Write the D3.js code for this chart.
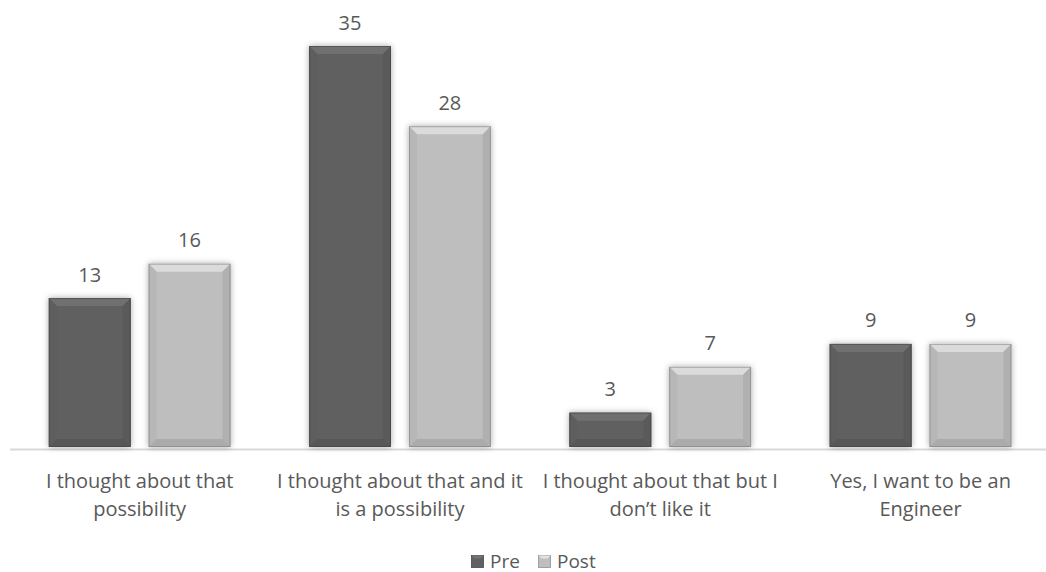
<!DOCTYPE html>
<html>
<head>
<meta charset="utf-8">
<script src="https://cdn.jsdelivr.net/npm/d3@7"></script>
<style>
  html, body { margin: 0; padding: 0; background: #ffffff; }
  svg { display: block; }
  text { font-family: "Open Sans", Lato, sans-serif; fill: #595959; }
</style>
</head>
<body>
<svg id="chart" width="1046" height="572"></svg>
<script>
// Survey answers, before and after the programme
const categories = [
  "I thought about that possibility",
  "I thought about that and it is a possibility",
  "I thought about that but I don\u2019t like it",
  "Yes, I want to be an Engineer"
];
const categoryLines = [
  ["I thought about that", "possibility"],
  ["I thought about that and it", "is a possibility"],
  ["I thought about that but I", "don\u2019t like it"],
  ["Yes, I want to be an", "Engineer"]
];
const seriesNames = ["Pre", "Post"];
const preValues = [13, 35, 3, 9];
const postValues = [16, 28, 7, 9];

const seriesColors = { Pre: "#616161", Post: "#bebebe" };

const W = 1046, H = 572;
const margin = { left: 9.5, right: -4.7, top: 46, bottom: 125 };
const svg = d3.select("#chart");

const x0 = d3.scaleBand().domain(categories)
  .range([margin.left, W - margin.right]).paddingInner(0.302).paddingOuter(0.151);
const x1 = d3.scaleBand().domain(seriesNames)
  .range([0, x0.bandwidth()]).paddingInner(0.18);
const y = d3.scaleLinear().domain([0, 35]).range([H - margin.bottom, margin.top]);

const defs = svg.append("defs");
const shadow = defs.append("filter").attr("id", "barShadow")
  .attr("x", "-20%").attr("y", "-20%").attr("width", "140%").attr("height", "140%");
shadow.append("feDropShadow").attr("dx", 0).attr("dy", 0)
  .attr("stdDeviation", 3).attr("flood-color", "#000").attr("flood-opacity", 0.35);

// axis baseline
svg.append("line")
  .attr("x1", 10).attr("x2", W)
  .attr("y1", y(0) + 2.5).attr("y2", y(0) + 2.5)
  .attr("stroke", "#d9d9d9").attr("stroke-width", 2);

const rows = categories.map((c, i) => ({ cat: c, values: [
  { s: "Pre", v: preValues[i] }, { s: "Post", v: postValues[i] }
]}));

const groups = svg.append("g").selectAll("g").data(rows).join("g")
  .attr("transform", d => `translate(${x0(d.cat)},0)`);

const bars = groups.selectAll("g.bar").data(d => d.values).join("g").attr("class", "bar");

bars.each(function(d) {
  const g = d3.select(this);
  const bx = x1(d.s), bw = x1.bandwidth();
  const top = y(d.v), bot = y(0), bh = bot - top;
  const base = d3.color(seriesColors[d.s]);
  const b = Math.min(8, bh / 2);
  g.append("rect").attr("x", bx).attr("y", top).attr("width", bw).attr("height", bh)
    .attr("fill", base).attr("filter", "url(#barShadow)");
  // bevel facets
  const face = (pts, col) => g.append("polygon")
    .attr("points", pts.map(p => p.join(",")).join(" ")).attr("fill", col);
  face([[bx, top], [bx + bw, top], [bx + bw - b, top + b], [bx + b, top + b]], base.brighter(0.4));
  face([[bx, top], [bx + b, top + b], [bx + b, bot - b], [bx, bot]], base.darker(0.1));
  face([[bx + bw, top], [bx + bw - b, top + b], [bx + bw - b, bot - b], [bx + bw, bot]], base.darker(0.22));
  face([[bx, bot], [bx + b, bot - b], [bx + bw - b, bot - b], [bx + bw, bot]], base.darker(0.3));
  g.append("rect").attr("x", bx + 0.5).attr("y", top + 0.5).attr("width", bw - 1).attr("height", bh - 1)
    .attr("fill", "none").attr("stroke", base.darker(1.2)).attr("stroke-opacity", 0.55);
  g.append("text").attr("x", bx + bw / 2).attr("y", top - 16.5)
    .attr("text-anchor", "middle").attr("font-size", 20).text(d.v);
});

// category labels
const labels = svg.append("g").selectAll("text").data(categories).join("text")
  .attr("text-anchor", "middle").attr("font-size", 20)
  .attr("transform", d => `translate(${x0(d) + x0.bandwidth() / 2},${y(0) + 41})`);
labels.each(function(d, i) {
  const t = d3.select(this);
  categoryLines[i].forEach((line, k) => {
    t.append("tspan").attr("x", 0).attr("dy", k === 0 ? 0 : 27.5).text(line);
  });
});

// legend
const legend = svg.append("g").attr("transform", "translate(471,561)");
const legendItems = [{ s: "Pre", x: 0 }, { s: "Post", x: 67 }];
legendItems.forEach(it => {
  const base = d3.color(seriesColors[it.s]);
  const lg = legend.append("g").attr("transform", `translate(${it.x},0)`);
  lg.append("rect").attr("x", 0.5).attr("y", -5.5).attr("width", 12).attr("height", 12)
    .attr("fill", base).attr("stroke", base.darker(0.8)).attr("stroke-width", 0.8);
  lg.append("polygon").attr("points", "0.5,-5.5 12.5,-5.5 9.5,-2.5 3.5,-2.5").attr("fill", base.brighter(0.5));
  lg.append("text").attr("x", 19).attr("y", 6.5).attr("font-size", 19).text(it.s);
});
</script>
</body>
</html>
